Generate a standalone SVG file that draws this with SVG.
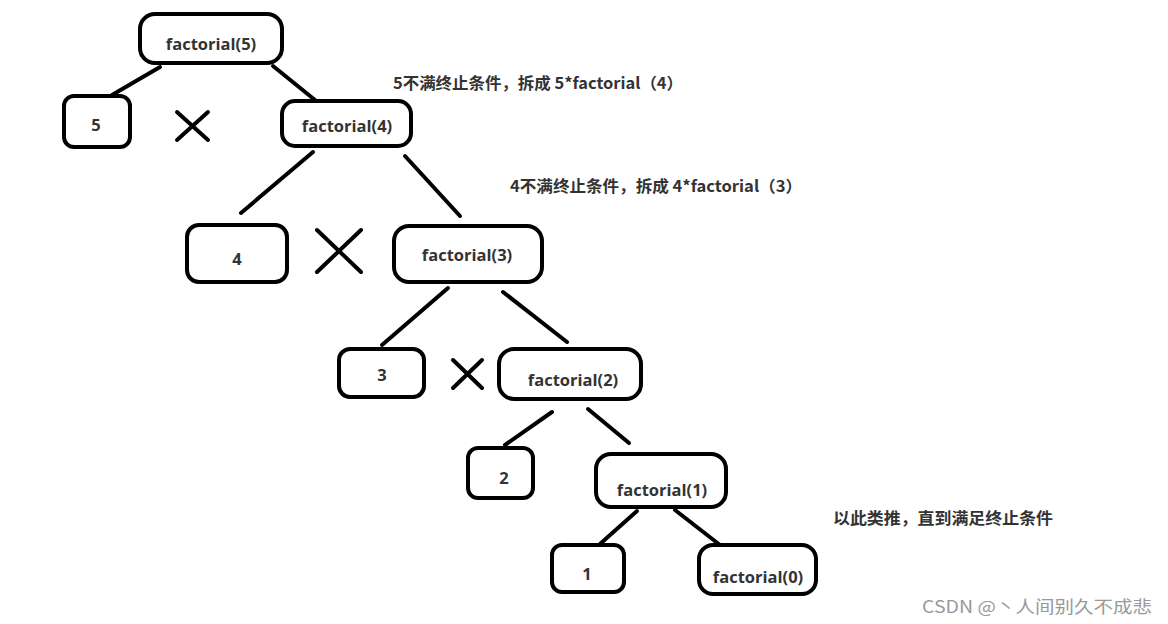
<svg xmlns="http://www.w3.org/2000/svg" width="1168" height="624" viewBox="0 0 1168 624">
<style>
.box{fill:#fff;stroke:#000;stroke-width:4}
.t{font-family:"Open Sans","Noto Sans CJK SC",sans-serif;font-weight:bold;font-size:16.5px;fill:#333;text-anchor:middle;dominant-baseline:central}
.note{font-family:"Noto Sans CJK SC","Open Sans",sans-serif;font-weight:bold;font-size:16px;fill:#333;dominant-baseline:central}
.wm{font-family:"Noto Sans CJK SC",sans-serif;font-size:17px;fill:#999;dominant-baseline:central}
.ln{stroke:#000;stroke-width:4;stroke-linecap:round;fill:none}
</style>
<rect width="1168" height="624" fill="#fff"/>
<g id="connectors" class="ln">
<line x1="160" y1="67" x2="112" y2="95"/>
<line x1="273" y1="66" x2="315" y2="100"/>
<line x1="313" y1="152" x2="241" y2="213"/>
<line x1="405" y1="156" x2="460" y2="216"/>
<line x1="448" y1="288" x2="382" y2="345"/>
<line x1="503" y1="292" x2="567" y2="342"/>
<line x1="552" y1="412" x2="505" y2="445"/>
<line x1="588" y1="409" x2="629" y2="443"/>
<line x1="637" y1="511" x2="600" y2="544"/>
<line x1="675" y1="510" x2="720" y2="545"/>
</g>
<g id="times" class="ln" stroke-width="3.5">
<path d="M177 112L208 140M177 140L208 112"/>
<path d="M317 230L361 272M317 272L361 230"/>
<path d="M453 360L482 388M453 388L482 360"/>
</g>
<g id="n_f5"><rect class="box" x="140" y="14" width="142" height="49" rx="15"/><text class="t" x="211" y="43">factorial(5)</text></g>
<g id="n_5"><rect class="box" x="64" y="96" width="66" height="51" rx="10"/><text class="t" x="96" y="124">5</text></g>
<g id="n_f4"><rect class="box" x="282" y="101" width="129" height="45" rx="13"/><text class="t" x="347" y="125">factorial(4)</text></g>
<g id="n_4"><rect class="box" x="187" y="225" width="100" height="57" rx="12"/><text class="t" x="237" y="258">4</text></g>
<g id="n_f3"><rect class="box" x="394" y="226" width="148" height="56" rx="15"/><text class="t" x="467" y="254">factorial(3)</text></g>
<g id="n_3"><rect class="box" x="339" y="349" width="85" height="48" rx="11"/><text class="t" x="382" y="374">3</text></g>
<g id="n_f2"><rect class="box" x="499" y="349" width="142" height="50" rx="15"/><text class="t" x="573" y="379">factorial(2)</text></g>
<g id="n_2"><rect class="box" x="468" y="448" width="65" height="50" rx="10"/><text class="t" x="504" y="477">2</text></g>
<g id="n_f1"><rect class="box" x="596" y="454" width="130" height="53" rx="15"/><text class="t" x="662" y="489">factorial(1)</text></g>
<g id="n_1"><rect class="box" x="552" y="545" width="72" height="47" rx="10"/><text class="t" x="587" y="573">1</text></g>
<g id="n_f0"><rect class="box" x="699" y="545" width="117" height="49" rx="14"/><text class="t" x="758" y="576">factorial(0)</text></g>
<g id="notes">
<text class="note" x="393" y="82" textLength="290" lengthAdjust="spacingAndGlyphs">5不满终止条件，拆成 5*factorial（4）</text>
<text class="note" x="510" y="185" textLength="292" lengthAdjust="spacingAndGlyphs">4不满终止条件，拆成 4*factorial（3）</text>
<text class="note" x="833" y="517" textLength="220" lengthAdjust="spacingAndGlyphs">以此类推，直到满足终止条件</text>
<text class="wm" x="922" y="605" textLength="230" lengthAdjust="spacingAndGlyphs">CSDN @丶人间别久不成悲</text>
</g>
</svg>
